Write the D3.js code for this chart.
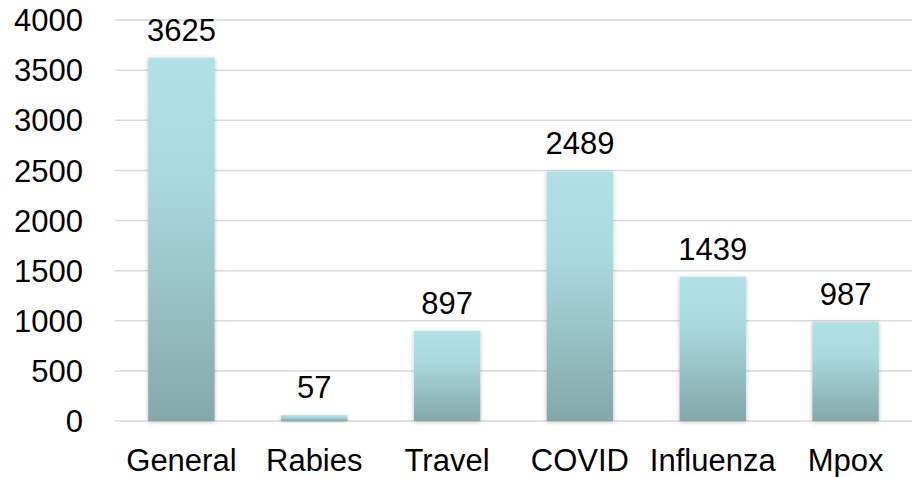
<!DOCTYPE html>
<html><head><meta charset="utf-8">
<script src="https://cdn.jsdelivr.net/npm/d3@7"></script>
<style>body{margin:0;background:#fff}svg{display:block}</style>
</head><body>
<svg id="c" width="914" height="477"></svg>
<script>
const categories = ["General","Rabies","Travel","COVID","Influenza","Mpox"];
const values = [3625,57,897,2489,1439,987];
const yTicks = [0,500,1000,1500,2000,2500,3000,3500,4000];

const svg = d3.select("#c");
const m = {l:115, r:2, t:20, b:56};
const W = 914, H = 477;
const FS = 31;
const FF = "Liberation Sans, Arial, sans-serif";
const x = d3.scaleBand().domain(categories).range([m.l, W - m.r]).paddingInner(0.5).paddingOuter(0.25);
const y = d3.scaleLinear().domain([0,4000]).range([H - m.b, m.t]);

const defs = svg.append("defs");
const g = defs.append("linearGradient").attr("id","bg").attr("x1",0).attr("y1",0).attr("x2",0).attr("y2",1);
g.append("stop").attr("offset","0%").attr("stop-color","#b1e0e5");
g.append("stop").attr("offset","35%").attr("stop-color","#a9d8dd");
g.append("stop").attr("offset","100%").attr("stop-color","#83a8aa");
const f = defs.append("filter").attr("id","sh").attr("x","-20%").attr("y","-20%").attr("width","140%").attr("height","140%");
f.append("feDropShadow").attr("dx",0).attr("dy",1).attr("stdDeviation",2).attr("flood-color","#000").attr("flood-opacity",0.25);

svg.append("g").selectAll("line").data(yTicks).join("line")
  .attr("x1", m.l).attr("x2", W - m.r)
  .attr("y1", d => y(d)).attr("y2", d => y(d))
  .attr("stroke","#d9d9d9").attr("stroke-width",1.5);

svg.append("g").selectAll("text").data(yTicks).join("text")
  .attr("x", 83).attr("y", d => y(d)).attr("dy","0.36em")
  .attr("text-anchor","end")
  .attr("font-family",FF).attr("font-size",FS).attr("fill","#000")
  .text(d => d);

svg.append("g").selectAll("rect").data(values).join("rect")
  .attr("x",(d,i)=>x(categories[i])).attr("width",x.bandwidth())
  .attr("y",d=>y(d)).attr("height",d=>y(0)-y(d))
  .attr("fill","url(#bg)").attr("filter","url(#sh)");

svg.append("g").selectAll("text").data(values).join("text")
  .attr("x",(d,i)=>x(categories[i])+x.bandwidth()/2).attr("y",d=>y(d)-17)
  .attr("text-anchor","middle")
  .attr("font-family",FF).attr("font-size",FS).attr("fill","#000")
  .text(d=>d);

svg.append("g").selectAll("text").data(categories).join("text")
  .attr("x",d=>x(d)+x.bandwidth()/2).attr("y",471)
  .attr("text-anchor","middle")
  .attr("font-family",FF).attr("font-size",FS).attr("fill","#000")
  .text(d=>d);
</script>
</body></html>
